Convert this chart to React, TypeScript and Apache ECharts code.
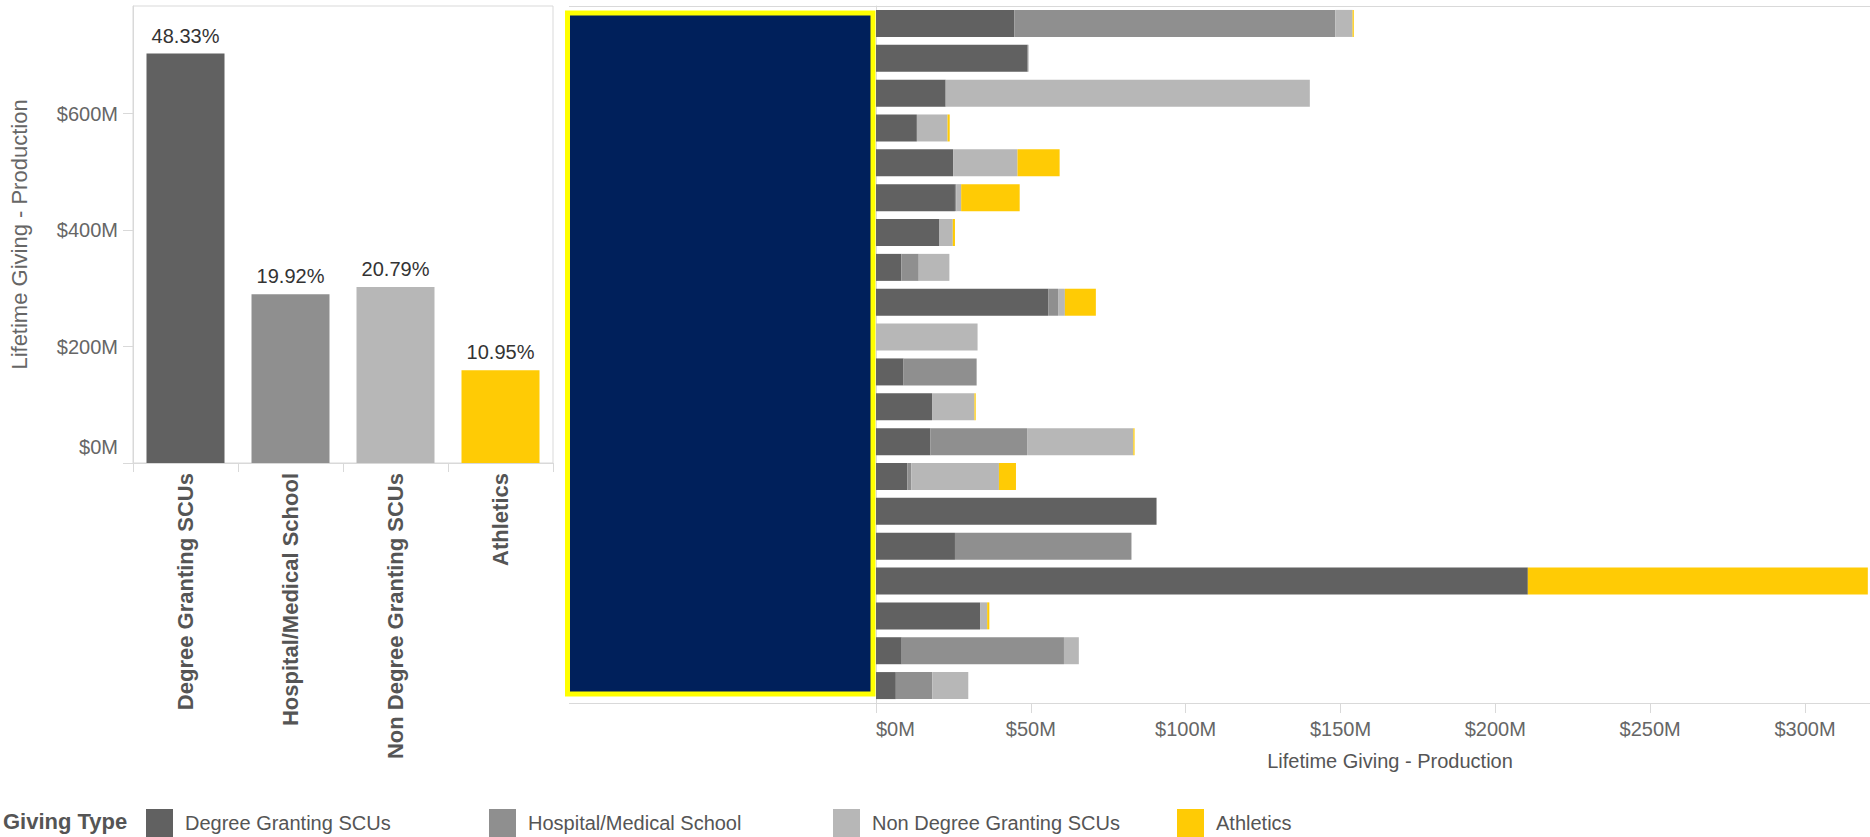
import React, { useEffect, useRef } from "react";
import * as echarts from "echarts";

// ---- data ----
const givingTypes = ["Degree Granting SCUs", "Hospital/Medical School", "Non Degree Granting SCUs", "Athletics"];
const typeColors = ["#616161", "#8f8f8f", "#b7b7b7", "#ffcb05"];
const totalByType = [703.3, 289.9, 302.5, 159.3]; // $M
const shareLabels = ["48.33%", "19.92%", "20.79%", "10.95%"];
const leftTicks = [0, 200, 400, 600];
const bottomTicks = [0, 50, 100, 150, 200, 250, 300];

const units = [
  "Unit 01", "Unit 02", "Unit 03", "Unit 04", "Unit 05", "Unit 06", "Unit 07", "Unit 08", "Unit 09", "Unit 10",
  "Unit 11", "Unit 12", "Unit 13", "Unit 14", "Unit 15", "Unit 16", "Unit 17", "Unit 18", "Unit 19", "Unit 20",
];
const degreeGranting = [44.7, 49.0, 22.5, 13.2, 24.9, 25.5, 20.5, 8.2, 55.6, 0, 8.9, 18.1, 17.6, 10.1, 90.6, 25.5, 210.5, 33.6, 8.3, 6.4];
const hospitalMedical = [103.6, 0, 0, 0, 0, 0.5, 0, 5.6, 3.2, 0, 23.6, 0, 31.2, 1.3, 0, 57.0, 0, 0, 52.4, 11.8];
const nonDegreeGranting = [5.6, 0.3, 117.6, 9.9, 20.8, 1.5, 4.3, 9.9, 2.2, 32.8, 0, 13.7, 34.3, 28.3, 0, 0, 0, 2.3, 4.8, 11.6];
const athletics = [0.4, 0, 0, 0.7, 13.6, 18.9, 0.7, 0, 10.0, 0, 0, 0.4, 0.4, 5.5, 0, 0, 109.8, 0.7, 0, 0];
const stackedSeries = [degreeGranting, hospitalMedical, nonDegreeGranting, athletics];
const legendLefts = [146, 489, 833, 1177];

const FONT = "Arial, 'Liberation Sans', Helvetica, sans-serif";
const AXIS = "#d9d9d9";
const money = (v: number) => `$${v}M`;

export default function App() {
  const ref = useRef<HTMLDivElement>(null);
  useEffect(() => {
    if (!ref.current) return;
    const chart = echarts.init(ref.current, undefined, { renderer: "svg" });
    const option: any = {
      animation: false,
      backgroundColor: "#ffffff",
      textStyle: { fontFamily: FONT },
      title: {
        text: "Giving Type",
        left: 3,
        top: 810,
        padding: 0,
        textStyle: { fontFamily: FONT, fontSize: 22, fontWeight: "bold", color: "#555555" },
      },
      legend: givingTypes.map((name, i) => ({
        data: [name],
        left: legendLefts[i],
        top: 809,
        padding: 0,
        itemWidth: 27,
        itemHeight: 28,
        icon: "rect",
        selectedMode: false,
        textStyle: { fontFamily: FONT, fontSize: 20, color: "#555555", padding: [0, 0, 0, 7] },
      })),
      grid: [
        { left: 133, top: 6, width: 420, height: 457, show: true, borderColor: AXIS, borderWidth: 1, containLabel: false, outerBoundsMode: "none" },
        { left: 876, top: 6, width: 994, height: 697, containLabel: false, outerBoundsMode: "none" },
      ],
      xAxis: [
        {
          type: "category",
          gridIndex: 0,
          data: givingTypes,
          axisLine: { show: true, lineStyle: { color: AXIS } },
          axisTick: { show: true, interval: 0, length: 9, lineStyle: { color: AXIS } },
          axisLabel: { rotate: 90, interval: 0, fontSize: 22, fontWeight: "bold", color: "#555555", margin: 10, fontFamily: FONT },
          splitLine: { show: false },
        },
        {
          type: "value",
          gridIndex: 1,
          min: 0,
          max: 321,
          interval: 50,
          axisLine: { show: true, lineStyle: { color: AXIS } },
          axisTick: { show: true, length: 10, lineStyle: { color: AXIS }, customValues: bottomTicks },
          axisLabel: {
            customValues: bottomTicks,
            formatter: money,
            fontSize: 20,
            color: "#666666",
            margin: 16,
            alignMinLabel: "left",
            fontFamily: FONT,
          },
          splitLine: { show: false },
          name: "Lifetime Giving - Production",
          nameLocation: "middle",
          nameGap: 48,
          nameMoveOverlap: false,
          nameTextStyle: { fontSize: 20, color: "#555555", padding: [0, 0, 0, 34], fontFamily: FONT },
        },
      ],
      yAxis: [
        {
          type: "value",
          gridIndex: 0,
          min: 0,
          max: 785,
          interval: 200,
          axisLine: { show: true, lineStyle: { color: AXIS } },
          axisTick: { show: true, length: 10, lineStyle: { color: AXIS }, customValues: leftTicks },
          axisLabel: {
            customValues: leftTicks,
            formatter: (v: number) => (v === 0 ? `{z|${money(v)}}` : money(v)),
            fontSize: 20,
            color: "#666666",
            margin: 15,
            verticalAlignMinLabel: "bottom",
            fontFamily: FONT,
            rich: {
              z: { fontSize: 20, color: "#666666", fontFamily: FONT, padding: [0, 0, 6, 0] },
            },
          },
          splitLine: { show: false },
          name: "Lifetime Giving - Production",
          nameLocation: "middle",
          nameRotate: 90,
          nameGap: 103,
          nameMoveOverlap: false,
          nameTextStyle: { fontSize: 22, color: "#666666", fontFamily: FONT },
        },
        {
          type: "category",
          gridIndex: 1,
          data: units,
          inverse: true,
          axisLine: { show: true, lineStyle: { color: AXIS } },
          axisTick: { show: false },
          axisLabel: { show: false },
          splitLine: { show: false },
        },
      ],
      series: [
        {
          type: "bar",
          xAxisIndex: 0,
          yAxisIndex: 0,
          barWidth: 78,
          data: totalByType.map((v, i) => ({ value: v, itemStyle: { color: typeColors[i] } })),
          label: {
            show: true,
            position: "top",
            distance: 8,
            formatter: (p: any) => shareLabels[p.dataIndex],
            fontSize: 20,
            color: "#333333",
            fontFamily: FONT,
          },
        },
        ...givingTypes.map((name, i) => ({
          name,
          type: "bar",
          stack: "giving",
          xAxisIndex: 1,
          yAxisIndex: 1,
          barWidth: 27,
          itemStyle: { color: typeColors[i] },
          data: stackedSeries[i],
        })),
      ],
      graphic: [
        { type: "line", shape: { x1: 569, y1: 6.5, x2: 1870, y2: 6.5 }, style: { stroke: AXIS, lineWidth: 1 }, silent: true },
        { type: "line", shape: { x1: 569, y1: 703.5, x2: 876, y2: 703.5 }, style: { stroke: AXIS, lineWidth: 1 }, silent: true },
        {
          type: "rect",
          shape: { x: 567.5, y: 13, width: 305.5, height: 681 },
          style: { fill: "#00205b", stroke: "#ffff00", lineWidth: 5 },
          z: 10,
          silent: true,
        },
      ],
    };
    chart.setOption(option);
    return () => chart.dispose();
  }, []);
  return <div ref={ref} style={{ position: "fixed", left: 0, top: 0, width: 1870, height: 837, background: "#fff" }} />;
}
